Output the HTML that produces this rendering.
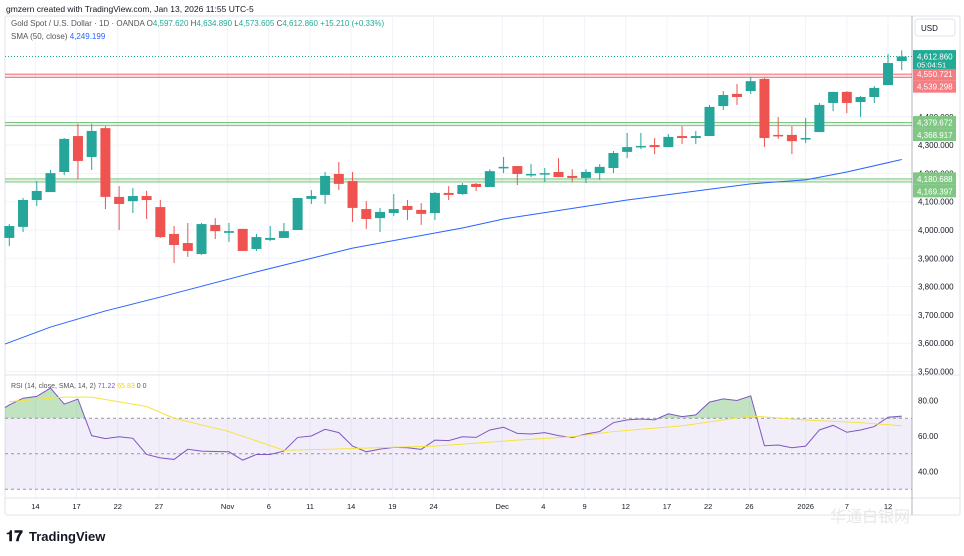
<!DOCTYPE html>
<html><head><meta charset="utf-8"><style>
html,body{margin:0;padding:0;background:#fff;}
svg{display:block;font-family:"Liberation Sans",sans-serif;}
</style></head><body>
<svg id="c" width="964" height="556" viewBox="0 0 964 556">
<text x="6" y="12" font-size="8.5" fill="#131722">gmzern created with TradingView.com, Jan 13, 2026 11:55 UTC-5</text>
<rect x="5" y="16" width="955" height="499" fill="none" stroke="#e0e3eb" stroke-width="1" rx="2"/>
<g id="grid"></g>
<g id="rsiPane"></g>
<g id="levels"></g>
<g id="sma"></g>
<g id="candles"></g>
<g id="axis"></g>
<g id="xaxis"></g>
<text x="11" y="26" font-size="8" fill="#555">Gold Spot / U.S. Dollar · 1D · OANDA <tspan fill="#555">O</tspan><tspan fill="#22ab94">4,597.620</tspan> <tspan fill="#555">H</tspan><tspan fill="#22ab94">4,634.890</tspan> <tspan fill="#555">L</tspan><tspan fill="#22ab94">4,573.605</tspan> <tspan fill="#555">C</tspan><tspan fill="#22ab94">4,612.860 +15.210 (+0.33%)</tspan></text>
<text x="11" y="39" font-size="8" fill="#555">SMA (50, close) <tspan fill="#2962ff">4,249.199</tspan></text>
<text x="11" y="388" font-size="7" fill="#555">RSI (14, close, SMA, 14, 2) <tspan fill="#7e57c2">71.22</tspan> <tspan fill="#f0d800">65.83</tspan> 0 0</text>
<rect x="915" y="19" width="40" height="17" rx="3" fill="#fff" stroke="#e0e3eb"/>
<text x="921" y="31" font-size="8" fill="#131722">USD</text>
<g>
<text x="6" y="541" font-size="15" font-weight="bold" fill="#131722">𝟏𝟕</text>
<text x="29" y="541" font-size="13" font-weight="bold" fill="#131722">TradingView</text>
</g>
<text x="830" y="522" font-size="16" fill="#ddd" opacity="0.7" font-family="'Liberation Sans','Noto Sans CJK SC',sans-serif">华通白银网</text>
</svg>
<script>
const NS='http://www.w3.org/2000/svg';
const opens=[3972,4011,4106,4134,4205,4332,4258,4360,4117,4102,4120,4081,3986,3954,3915,4018,3990,4004,3933,3965,3972,4000,4110,4124,4198,4173,4074,4042,4060,4085,4071,4060,4131,4127,4163,4152,4219,4226,4194,4198,4205,4191,4184,4201,4219,4276,4293,4300,4293,4332,4325,4332,4438,4481,4491,4534,4336,4336,4322,4346,4449,4488,4452,4470,4512,4597];
const highs=[4021,4113,4173,4212,4325,4375,4375,4367,4155,4148,4138,4106,4014,4025,4025,4042,4025,4004,3986,4014,4025,4113,4141,4205,4240,4205,4102,4078,4127,4106,4095,4134,4155,4166,4166,4215,4258,4226,4233,4219,4254,4215,4215,4233,4279,4343,4343,4325,4339,4367,4350,4442,4491,4516,4541,4537,4399,4367,4396,4449,4488,4491,4474,4509,4622,4635];
const lows=[3943,3993,4085,4134,4194,4180,4212,4074,4000,4060,4039,3972,3883,3905,3912,3968,3958,3926,3926,3961,3972,4000,4092,4092,4141,4028,4004,3993,4049,4035,4018,4035,4106,4124,4138,4152,4201,4159,4187,4170,4187,4170,4166,4177,4201,4254,4286,4268,4293,4304,4304,4332,4424,4442,4481,4293,4322,4268,4307,4346,4420,4413,4399,4449,4512,4565];
const closes=[4014,4106,4138,4201,4322,4244,4350,4117,4092,4120,4106,3975,3947,3926,4021,3996,3996,3926,3975,3972,3996,4113,4120,4191,4163,4078,4039,4064,4074,4071,4057,4131,4124,4159,4152,4208,4223,4198,4198,4201,4187,4184,4205,4223,4272,4293,4297,4293,4329,4325,4332,4435,4477,4470,4526,4325,4332,4314,4325,4442,4488,4449,4470,4502,4590,4613];
const smaIdx=[0,3,7,11,18,25,33,36,45,54,58,61,65];
const smaVals=[3597,3657,3714,3763,3852,3936,4007,4039,4106,4163,4177,4205,4249];
const rsiVals=[77.5,81.3,82.3,87,78,80.8,60.2,58.5,59.6,58.7,49.6,47.7,46.8,52.5,51.5,51.3,51.1,46.4,49.6,49.6,51.5,59.2,60,63.8,61.9,54.3,51.1,52.6,53.6,53.4,52.5,57.7,57.4,59.6,59.2,63.4,64.9,61.5,61.1,61.9,60.2,59.1,61.1,62.5,67.5,69.1,69.6,69.1,72.5,70.9,71.9,79.1,80.9,80,82.6,54.5,54.9,53.4,54.3,63.4,66,62.1,63.4,65.3,70.6,71.2];
const rsiMaIdx=[0,4,6,10,12,16,20,23,31,37,41,44,49,54,58,62,65];
const rsiMaVals=[79.4,81.9,81.9,76.6,70,62.5,52,52.5,54.3,57.7,59.6,62.5,65.7,71.3,69,67.5,65.8];
const priceTicks=[4400,4300,4200,4100,4000,3900,3800,3700,3600,3500];
const rsiTicks=[80,60,40];
const dateLabels=['14','17','22','27','Nov','6','11','14','19','24','Dec','4','9','12','17','22','26','2026','7','12'];
const dateIdx=[1.9,4.9,7.9,10.9,15.9,18.9,21.9,24.9,27.9,30.9,35.9,38.9,41.9,44.9,47.9,50.9,53.9,58,61,64];
const levels=[[4550.721,4539.298,'#f23645'],[4379.672,4368.917,'#4caf50'],[4180.688,4169.397,'#4caf50']];
const lastPrice=4612.86;

const PR=912;
const X=i=>9.3+i*13.73;
const Y=p=>230-(p-4000)*0.283;
const RY=v=>400.5-(v-80)*1.775;
function mk(tag,attrs,parent){const e=document.createElementNS(NS,tag);for(const k in attrs)e.setAttribute(k,attrs[k]);parent.appendChild(e);return e;}
const g=id=>document.getElementById(id);

// grid
const grid=g('grid');
dateIdx.forEach(i=>{const l=mk('line',{x1:X(i),x2:X(i),y1:16,y2:498,stroke:'#f0f3fa'},grid);

});
priceTicks.forEach(p=>{const l=mk('line',{x1:5,x2:PR,y1:Y(p),y2:Y(p),stroke:'#f0f3fa'},grid);

});
mk('line',{x1:5,x2:960,y1:375,y2:375,stroke:'#e0e3eb'},grid);
mk('line',{x1:5,x2:960,y1:498,y2:498,stroke:'#e0e3eb'},grid);
mk('line',{x1:PR,x2:PR,y1:16,y2:515,stroke:'#b2b5be'},grid);

// RSI pane
const rp=g('rsiPane');
const band=mk('rect',{x:5,y:RY(70),width:PR-5,height:RY(30)-RY(70),fill:'#7e57c2','fill-opacity':0.1},rp);


[70,50,30].forEach(v=>{const l=mk('line',{x1:5,x2:PR,y1:RY(v),y2:RY(v),stroke:'#9598a1','stroke-dasharray':'3,3'},rp);

});
let segs=[];let cur=[];
rsiVals.forEach((v,i)=>{ if(v>70){cur.push(i);} else if(cur.length){segs.push(cur);cur=[];} });
if(cur.length)segs.push(cur);
segs.forEach(s=>{
  let a=s[0],b=s[s.length-1];
  let pts=[];
  let xa=a>0?X(a-1)+(X(a)-X(a-1))*(70-rsiVals[a-1])/(rsiVals[a]-rsiVals[a-1]):X(a);
  if(a===0) xa=5;
  pts.push(xa+','+RY(70));
  if(a===0) pts.push('5,'+RY(rsiVals[0]-1.5));
  s.forEach(i=>pts.push(X(i)+','+RY(rsiVals[i])));
  let xb=b<rsiVals.length-1?X(b)+(X(b+1)-X(b))*(rsiVals[b]-70)/(rsiVals[b]-rsiVals[b+1]):X(b);
  pts.push(xb+','+RY(70));
  const p=mk('polygon',{points:pts.join(' '),fill:'#4caf50','fill-opacity':0.35},rp);
  
  
});
const rl=mk('polyline',{points:'5,'+RY(rsiVals[0]-1.5)+' '+rsiVals.map((v,i)=>X(i)+','+RY(v)).join(' '),fill:'none',stroke:'#7e57c2','stroke-width':1},rp);


const rm=mk('polyline',{points:rsiMaIdx.map((i,k)=>X(i)+','+RY(rsiMaVals[k])).join(' '),fill:'none',stroke:'#f5e33c','stroke-width':1},rp);



// levels
const lv=g('levels');
levels.forEach(([a,b,c])=>{
  const r=mk('rect',{x:5,y:Y(a),width:PR-5,height:Y(b)-Y(a),fill:c,'fill-opacity':0.15},lv);
  
  
  [a,b].forEach(p=>{const l=mk('line',{x1:5,x2:PR,y1:Y(p),y2:Y(p),stroke:c,'stroke-opacity':0.7,'stroke-width':1},lv);
  
  });
});
const pl=mk('line',{x1:5,x2:PR,y1:Y(lastPrice),y2:Y(lastPrice),stroke:'#22ab94','stroke-dasharray':'1,2'},lv);



// sma
const sl=mk('polyline',{points:smaIdx.map((i,k)=>(k===0?5:X(i))+','+Y(smaVals[k])).join(' '),fill:'none',stroke:'#2962ff','stroke-width':1},g('sma'));



// candles
const cg=g('candles');
opens.forEach((o,i)=>{
  const c=closes[i],up=c>=o,col=up?'#26a69a':'#ef5350',x=X(i);
  const w=mk('line',{x1:x,x2:x,y1:Y(highs[i]),y2:Y(lows[i]),stroke:col,'stroke-width':1},cg);
  
  
  const t=Y(Math.max(o,c)),h=Math.max(1.5,Math.abs(Y(o)-Y(c)));
  const b=mk('rect',{x:x-5,y:t,width:10,height:h,fill:col},cg);
  
  
});

// price axis
const ax=g('axis');
priceTicks.forEach(p=>{const t=mk('text',{x:918,y:Y(p)+3,'font-size':8,fill:'#131722'},ax);t.textContent=p.toLocaleString('en-US')+'.000';

});
rsiTicks.forEach(v=>{const t=mk('text',{x:918,y:RY(v)+3,'font-size':8,fill:'#131722'},ax);t.textContent=v.toFixed(2);

});
function tag(p,c,label,extra){
  const y=Y(p);const h=extra?19:12.5;
  const r=mk('rect',{x:913,y:y-6.5,width:43,height:h,fill:c},ax);
  
  
  const t=mk('text',{x:917,y:y+3,'font-size':8,fill:'#fff'},ax);t.textContent=label;
  
  
  if(extra){const t2=mk('text',{x:917,y:y+11,'font-size':7.5,fill:'#fff'},ax);t2.textContent=extra;
  
  }
}
const fmt=v=>v.toLocaleString('en-US',{minimumFractionDigits:3,maximumFractionDigits:3});
levels.forEach(([a,b,c])=>{const col=c==='#f23645'?'#f77c80':'#81c784';tag(a,col,fmt(a));const yb=Y(b);tag(b+(Y(a)+12.5-yb>0?-(Y(a)+12.5-yb)/0.283:0),col,fmt(b));});
tag(lastPrice,'#22ab94',fmt(lastPrice),'05:04:51');

// x axis
const xa=g('xaxis');
dateLabels.forEach((d,k)=>{const t=mk('text',{x:X(dateIdx[k]),y:509,'font-size':7.5,fill:'#131722','text-anchor':'middle'},xa);t.textContent=d;

});
</script>
</body></html>
